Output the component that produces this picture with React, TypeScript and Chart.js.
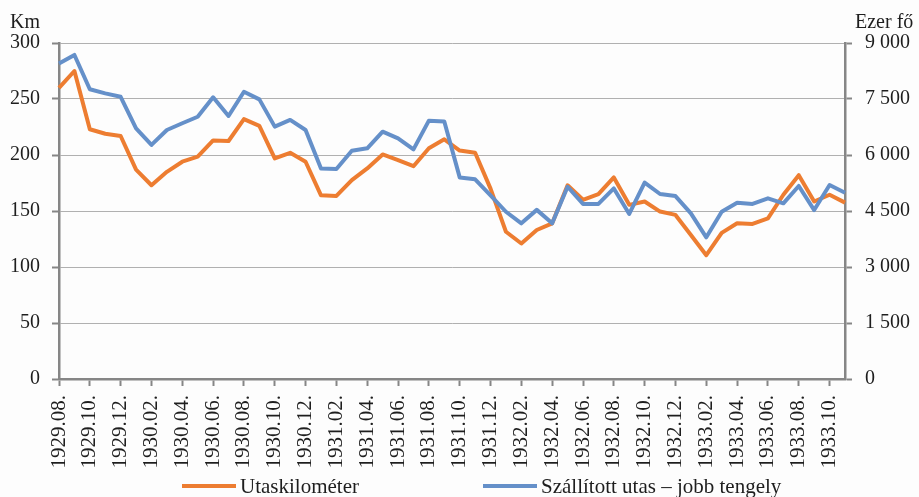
import React, { useEffect, useRef } from "react";
import { Chart, registerables } from "chart.js";

Chart.register(...registerables);

const months: string[] = [
  "1929.08.", "1929.09.", "1929.10.", "1929.11.", "1929.12.",
  "1930.01.", "1930.02.", "1930.03.", "1930.04.", "1930.05.", "1930.06.",
  "1930.07.", "1930.08.", "1930.09.", "1930.10.", "1930.11.", "1930.12.",
  "1931.01.", "1931.02.", "1931.03.", "1931.04.", "1931.05.", "1931.06.",
  "1931.07.", "1931.08.", "1931.09.", "1931.10.", "1931.11.", "1931.12.",
  "1932.01.", "1932.02.", "1932.03.", "1932.04.", "1932.05.", "1932.06.",
  "1932.07.", "1932.08.", "1932.09.", "1932.10.", "1932.11.", "1932.12.",
  "1933.01.", "1933.02.", "1933.03.", "1933.04.", "1933.05.", "1933.06.",
  "1933.07.", "1933.08.", "1933.09.", "1933.10.", "1933.11.",
];

// Utaskilométer (Km, left axis)
const utaskilometer: number[] = [
  260, 275, 223, 219, 217, 187, 173, 185, 194, 198.5, 213, 212.5, 232, 226,
  197, 202, 194, 164, 163.5, 177.5, 188, 200.5, 195.5, 190, 206, 214, 204,
  202, 170, 131.5, 121, 133, 139, 173, 160, 165, 180, 155.5, 158.5, 149.5,
  146.5, 128.5, 110.5, 130.5, 139, 138.5, 143.5, 164.5, 182, 158.5, 164.5,
  157.5,
];

// Szállított utas (ezer fő, right axis)
const szallitottUtas: number[] = [
  8450, 8680, 7760, 7650, 7560, 6715, 6270, 6670, 6850, 7025, 7545, 7045,
  7695, 7490, 6760, 6940, 6670, 5640, 5625, 6115, 6180, 6625, 6445, 6150,
  6920, 6895, 5400, 5350, 4920, 4480, 4170, 4530, 4170, 5150, 4690, 4690,
  5105, 4420, 5260, 4955, 4900, 4435, 3795, 4480, 4720, 4690, 4840, 4705,
  5170, 4525, 5195, 4990,
];

const seriesNames: string[] = ["Utaskilométer", "Szállított utas – jobb tengely"];
const leftAxisTitle = "Km";
const rightAxisTitle = "Ezer fő";

const ORANGE = "#ED7D31";
const BLUE = "#6590C9";
const AXIS = "#868686";
const GRID = "#b0b0b0";
const TEXT = "#1e1e1e";
const FONT = "'Liberation Serif', 'Times New Roman', serif";

function fmtThousands(v: number): string {
  if (v < 1000) return String(v);
  const th = Math.floor(v / 1000);
  const rest = String(v % 1000).padStart(3, "0");
  return `${th} ${rest}`;
}

const extrasPlugin = {
  id: "extras",
  beforeDraw(chart: any) {
    const ctx = chart.ctx;
    ctx.save();
    ctx.fillStyle = "#fdfdfd";
    ctx.fillRect(0, 0, chart.width, chart.height);
    ctx.restore();
  },
  afterDraw(chart: any) {
    const ctx = chart.ctx;
    const area = chart.chartArea;
    ctx.save();
    ctx.font = `20px ${FONT}`;
    ctx.fillStyle = TEXT;
    ctx.textBaseline = "alphabetic";
    ctx.textAlign = "left";
    ctx.fillText(leftAxisTitle, area.left - 49, area.top - 15);
    ctx.fillText(rightAxisTitle, area.right + 10, area.top - 15);

    // legend
    ctx.font = `21px ${FONT}`;
    const items = [
      { text: seriesNames[0], color: ORANGE, x: 182 },
      { text: seriesNames[1], color: BLUE, x: 483 },
    ];
    const ly = 486;
    ctx.lineWidth = 4;
    items.forEach((it) => {
      ctx.strokeStyle = it.color;
      ctx.beginPath();
      ctx.moveTo(it.x, ly);
      ctx.lineTo(it.x + 54, ly);
      ctx.stroke();
      ctx.fillStyle = TEXT;
      ctx.textBaseline = "middle";
      ctx.fillText(it.text, it.x + 58, ly + 1);
    });
    ctx.restore();
  },
};

export default function App() {
  const canvasRef = useRef<HTMLCanvasElement | null>(null);

  useEffect(() => {
    if (!canvasRef.current) return;
    const chart = new Chart(canvasRef.current, {
      type: "line",
      data: {
        labels: months,
        datasets: [
          {
            label: seriesNames[0],
            data: utaskilometer,
            borderColor: ORANGE,
            backgroundColor: ORANGE,
            borderWidth: 4,
            pointRadius: 0,
            tension: 0,
            borderJoinStyle: "round",
            yAxisID: "y",
            order: 1,
          },
          {
            label: seriesNames[1],
            data: szallitottUtas,
            borderColor: BLUE,
            backgroundColor: BLUE,
            borderWidth: 4,
            pointRadius: 0,
            tension: 0,
            borderJoinStyle: "round",
            yAxisID: "y1",
            order: 0,
          },
        ],
      },
      options: {
        responsive: false,
        animation: false,
        devicePixelRatio: 1,
        layout: { padding: { top: 43, left: 0, right: 0, bottom: 0 } },
        plugins: {
          legend: { display: false },
          tooltip: { enabled: false },
          title: { display: false },
        },
        scales: {
          x: {
            type: "category",
            offset: false,
            afterFit: (s: any) => {
              s.height = 118;
            },
            border: { display: true, color: AXIS, width: 2.5 },
            grid: {
              drawOnChartArea: false,
              drawTicks: true,
              tickLength: 7,
              tickColor: AXIS,
              tickWidth: 2,
            },
            ticks: {
              autoSkip: false,
              maxRotation: 90,
              minRotation: 90,
              padding: 9,
              color: TEXT,
              font: { family: FONT, size: 21 },
              callback: function (this: any, _v: any, i: number) {
                return i % 2 === 0 ? months[i] : null;
              },
            },
          },
          y: {
            position: "left",
            min: 0,
            max: 300,
            afterFit: (s: any) => {
              s.width = 59;
            },
            border: { display: true, color: AXIS, width: 2.5 },
            grid: {
              color: GRID,
              lineWidth: 1,
              drawTicks: true,
              tickLength: 7,
              tickColor: AXIS,
              tickWidth: 2,
            },
            ticks: {
              stepSize: 50,
              padding: 12,
              color: TEXT,
              font: { family: FONT, size: 20 },
            },
          },
          y1: {
            position: "right",
            min: 0,
            max: 9000,
            afterFit: (s: any) => {
              s.width = 74;
            },
            border: { display: true, color: AXIS, width: 2.5 },
            grid: {
              drawOnChartArea: false,
              drawTicks: true,
              tickLength: 7,
              tickColor: AXIS,
              tickWidth: 2,
            },
            ticks: {
              stepSize: 1500,
              padding: 13,
              color: TEXT,
              font: { family: FONT, size: 20 },
              callback: (v: any) => fmtThousands(Number(v)),
            },
          },
        },
      },
      plugins: [extrasPlugin],
    } as any);
    return () => chart.destroy();
  }, []);

  return (
    <div style={{ position: "fixed", left: 0, top: 0, width: 919, height: 497 }}>
      <canvas ref={canvasRef} width={919} height={497} style={{ width: 919, height: 497 }} />
    </div>
  );
}
